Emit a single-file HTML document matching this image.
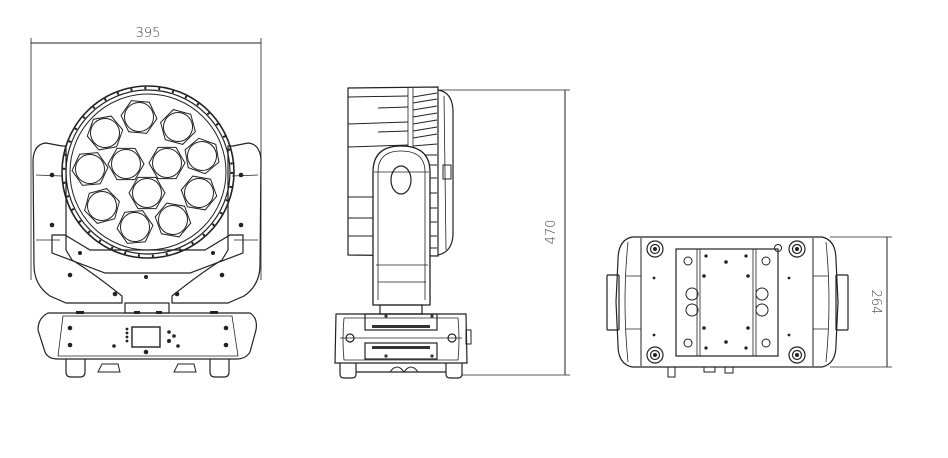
<!DOCTYPE html>
<html><head><meta charset="utf-8"><style>
html,body{margin:0;padding:0;background:#fff;width:948px;height:458px;overflow:hidden}
svg{display:block}
text{font-family:"DejaVu Sans","Liberation Sans",sans-serif;font-size:13px;fill:#444;font-weight:300}
</style></head><body>
<svg width="948" height="458" viewBox="0 0 948 458" xmlns="http://www.w3.org/2000/svg" fill="none" stroke="#222" stroke-width="1.2">
<defs>
<g id="led"><polygon points="18,0 9,15.6 -9,15.6 -18,0 -9,-15.6 9,-15.6" stroke-width="1"/><circle r="14.5" stroke-width="1"/></g>
</defs>
<!-- ===== FRONT VIEW ===== -->
<line x1="31" y1="43" x2="261" y2="43" stroke-width="1"/>
<line x1="31" y1="38" x2="31" y2="280" stroke-width="0.8"/>
<line x1="261" y1="38" x2="261" y2="280" stroke-width="0.8"/>
<text x="148" y="37" text-anchor="middle" stroke="none">395</text>
<!-- yoke arms -->
<path d="M62,146 L46,143 Q34,144 33,160 L34,265 Q34,285 50,296 L66,303 L122,303 L122,296 Q92,272 72,260 L66,250 L66,146 Z"/>
<path d="M233,146 L248,143 Q260,144 261,160 L260,265 Q260,285 244,296 L228,303 L172,303 L172,296 Q202,272 222,260 L228,250 L228,146 Z"/>
<path d="M36,175 L62,176 M258,175 L232,176 M36,240 L60,240 M258,240 L234,240" stroke-width="0.8"/>
<!-- crossbar -->
<path d="M52,235 L52,253 L105,273 L190,273 L243,253 L243,235 L230,235 L205,250 L90,250 L65,235 Z"/>
<!-- head circle -->
<circle cx="148" cy="172" r="86" stroke-width="1.6"/>
<circle cx="148" cy="172" r="82"/>
<circle cx="148" cy="172" r="78" stroke-width="1"/>
<circle cx="148" cy="172" r="84" stroke-width="2.5" stroke-dasharray="2 12"/>
<use href="#led" transform="translate(139,117) rotate(5)"/>
<use href="#led" transform="translate(178,127) rotate(15)"/>
<use href="#led" transform="translate(105,133) rotate(-10)"/>
<use href="#led" transform="translate(202,156) rotate(20)"/>
<use href="#led" transform="translate(90,169) rotate(-5)"/>
<use href="#led" transform="translate(126,164) rotate(0)"/>
<use href="#led" transform="translate(167,163) rotate(0)"/>
<use href="#led" transform="translate(147,193) rotate(0)"/>
<use href="#led" transform="translate(199,193) rotate(10)"/>
<use href="#led" transform="translate(102,206) rotate(-15)"/>
<use href="#led" transform="translate(173,220) rotate(10)"/>
<use href="#led" transform="translate(135,227) rotate(-5)"/>
<g fill="#222" stroke="none">
<circle cx="52" cy="175" r="2.3"/><circle cx="241" cy="175" r="2.3"/>
<circle cx="52" cy="225" r="2.3"/><circle cx="241" cy="225" r="2.3"/>
<circle cx="80" cy="253" r="2"/><circle cx="213" cy="253" r="2"/>
<circle cx="70" cy="275" r="2.3"/><circle cx="222" cy="275" r="2.3"/>
<circle cx="146" cy="277" r="2"/>
<circle cx="115" cy="294" r="2.3"/><circle cx="177" cy="294" r="2.3"/>
</g>
<!-- neck -->
<rect x="125" y="303" width="44" height="10"/>
<!-- base -->
<path d="M48,313 L250,313 Q258,318 256,330 L250,352 Q246,359 236,359 L58,359 Q48,359 45,352 L38,330 Q38,318 48,313 Z"/>
<path d="M63,316 L232,316 L238,356 L58,356 Z" stroke-width="0.8"/>
<rect x="132" y="327" width="28" height="20" stroke-width="1.4"/>
<g fill="#222" stroke="none">
<circle cx="127" cy="329" r="1.4"/><circle cx="127" cy="333" r="1.4"/><circle cx="127" cy="337" r="1.4"/><circle cx="127" cy="341" r="1.4"/>
<circle cx="169" cy="332" r="1.8"/><circle cx="174" cy="336" r="1.8"/><circle cx="169" cy="341" r="2"/>
<circle cx="70" cy="328" r="2.3"/><circle cx="226" cy="328" r="2.3"/>
<circle cx="70" cy="345" r="2.3"/><circle cx="226" cy="345" r="2.3"/>
<circle cx="114" cy="346" r="1.8"/><circle cx="146" cy="352" r="2.3"/><circle cx="178" cy="346" r="1.8"/>
<rect x="76" y="311" width="8" height="3"/><rect x="134" y="311" width="6" height="3"/><rect x="156" y="311" width="6" height="3"/><rect x="210" y="311" width="8" height="3"/>
</g>
<path d="M66,359 L66,372 Q66,377 71,377 L80,377 Q85,377 85,372 L85,359 M210,359 L210,372 Q210,377 215,377 L224,377 Q229,377 229,372 L229,359"/>
<path d="M98,372 L120,372 L118,364 L102,364 Z M174,372 L196,372 L194,364 L178,364 Z" stroke-width="1"/>
<!-- ===== SIDE VIEW ===== -->
<line x1="440" y1="90" x2="570" y2="90" stroke-width="0.8"/>
<line x1="565" y1="90" x2="565" y2="375" stroke-width="1"/>
<line x1="462" y1="375" x2="570" y2="375" stroke-width="0.8"/>
<text x="0" y="0" transform="translate(555,232) rotate(-90)" text-anchor="middle" stroke="none">470</text>
<path d="M348,88 L438,87 L438,256 L348,255 Z"/>
<path d="M438,90 Q452,92 453,110 L453,235 Q452,252 438,255" />
<path d="M444,96 L446,250" stroke-width="0.8"/>
<rect x="443" y="165" width="8" height="14" stroke-width="1"/>
<path d="M408,88 L408,256 M413,88 L413,256" stroke-width="0.8"/>
<g stroke-width="1">
<path d="M348,97 L408,96 M348,124 L408,122 M348,147 L408,145 M348,197 L373,197 M348,218 L373,218 M348,236 L373,236"/>
<path d="M378,108 L408,107 M378,132 L408,131 M378,155 L408,154"/>
<path d="M413,97 L437,93 M413,103 L437,99 M413,110 L437,106 M413,117 L437,113 M413,124 L437,120 M413,131 L437,127 M413,138 L437,134 M413,146 L437,144 M413,155 L437,155 M413,165 L437,165 M413,178 L437,178 M413,193 L437,193 M413,208 L437,208 M413,222 L437,222 M413,236 L437,236 M413,248 L437,248"/>
</g>
<path d="M373,305 L373,172 Q373,146 401,146 Q430,146 430,172 L430,305 Z" fill="#fff" stroke-width="1.3"/>
<path d="M378,300 L378,172 Q378,151 401,151 Q425,151 425,172 L425,300" stroke-width="0.8"/>
<ellipse cx="401" cy="180" rx="10" ry="14"/>
<path d="M374,172 L429,172 M376,265 L428,265 M378,282 L426,282" stroke-width="0.8"/>
<rect x="380" y="305" width="42" height="9"/>
<path d="M336,314 L466,314 L467,363 L335,363 Z"/>
<path d="M344,318 L458,318 Q460,340 458,360 L344,360 Q342,340 344,318" stroke-width="0.8"/>
<rect x="365" y="314" width="72" height="16"/><rect x="365" y="343" width="72" height="16"/>
<path d="M340,338 L462,338" stroke-width="0.8"/>
<g fill="#333" stroke="none"><rect x="372" y="325" width="58" height="3"/><rect x="372" y="346" width="58" height="3"/>
<circle cx="386" cy="316" r="1.6"/><circle cx="432" cy="316" r="1.6"/><circle cx="386" cy="356" r="1.6"/><circle cx="432" cy="356" r="1.6"/></g>
<circle cx="350" cy="338" r="4"/><circle cx="452" cy="338" r="4"/>
<rect x="466" y="330" width="5" height="14" stroke-width="1"/>
<path d="M340,363 L340,374 Q340,378 344,378 L352,378 Q356,378 356,374 L356,363 M446,363 L446,374 Q446,378 450,378 L458,378 Q462,378 462,374 L462,363 M356,372 L446,372"/>
<path d="M390,372 Q397,362 404,372 Q411,362 418,372" stroke-width="1"/>
<!-- ===== TOP VIEW ===== -->
<line x1="830" y1="237" x2="892" y2="237" stroke-width="0.8"/>
<line x1="887" y1="237" x2="887" y2="367" stroke-width="1"/>
<line x1="830" y1="367" x2="892" y2="367" stroke-width="0.8"/>
<text x="0" y="0" transform="translate(872,302) rotate(90)" text-anchor="middle" stroke="none">264</text>
<path d="M632,237 L822,237 Q836,240 836,260 L838,302 L836,345 Q836,364 822,367 L632,367 Q618,364 618,345 L616,302 L618,260 Q618,240 632,237 Z"/>
<path d="M641,238 L641,366 M813,238 L813,366" stroke-width="1"/>
<path d="M628,242 Q622,302 628,362 M826,242 Q832,302 826,362" stroke-width="0.8"/>
<rect x="607" y="275" width="12" height="55" rx="1"/>
<rect x="836" y="275" width="12" height="55" rx="1"/>
<path d="M626,276 L641,276 M626,329 L641,329 M813,276 L828,276 M813,329 L828,329" stroke-width="0.8"/>
<rect x="676" y="249" width="102" height="107"/>
<path d="M697,249 L697,356 M700,249 L700,356 M753,249 L753,356 M756,249 L756,356" stroke-width="0.8"/>
<g stroke-width="1.2">
<circle cx="655" cy="249" r="8"/><circle cx="655" cy="249" r="4.5"/>
<circle cx="797" cy="249" r="8"/><circle cx="797" cy="249" r="4.5"/>
<circle cx="655" cy="355" r="8"/><circle cx="655" cy="355" r="4.5"/>
<circle cx="797" cy="355" r="8"/><circle cx="797" cy="355" r="4.5"/>
</g>
<g fill="#222" stroke="none">
<circle cx="655" cy="249" r="2"/><circle cx="797" cy="249" r="2"/><circle cx="655" cy="355" r="2"/><circle cx="797" cy="355" r="2"/>
<circle cx="654" cy="278" r="1.4"/><circle cx="789" cy="278" r="1.4"/><circle cx="654" cy="335" r="1.4"/><circle cx="789" cy="335" r="1.4"/>
<circle cx="706" cy="256" r="1.6"/><circle cx="746" cy="256" r="1.6"/><circle cx="726" cy="262" r="1.8"/>
<circle cx="706" cy="348" r="1.6"/><circle cx="746" cy="348" r="1.6"/><circle cx="726" cy="342" r="1.8"/>
<circle cx="704" cy="276" r="1.8"/><circle cx="748" cy="276" r="1.8"/><circle cx="704" cy="328" r="1.8"/><circle cx="748" cy="328" r="1.8"/>
</g>
<g stroke-width="1">
<circle cx="688" cy="261" r="4"/><circle cx="688" cy="343" r="4"/><circle cx="766" cy="261" r="4"/><circle cx="766" cy="343" r="4"/>
<circle cx="778" cy="248" r="3.5"/>
<circle cx="692" cy="294" r="6"/><circle cx="692" cy="310" r="6"/>
<circle cx="762" cy="294" r="6"/><circle cx="762" cy="310" r="6"/>
</g>
<path d="M668,367 L668,377 L675,377 L675,367 M704,367 L704,372 L715,372 L715,367 M725,367 L725,373 L733,373 L733,367" stroke-width="1"/>
</svg>
</body></html>
